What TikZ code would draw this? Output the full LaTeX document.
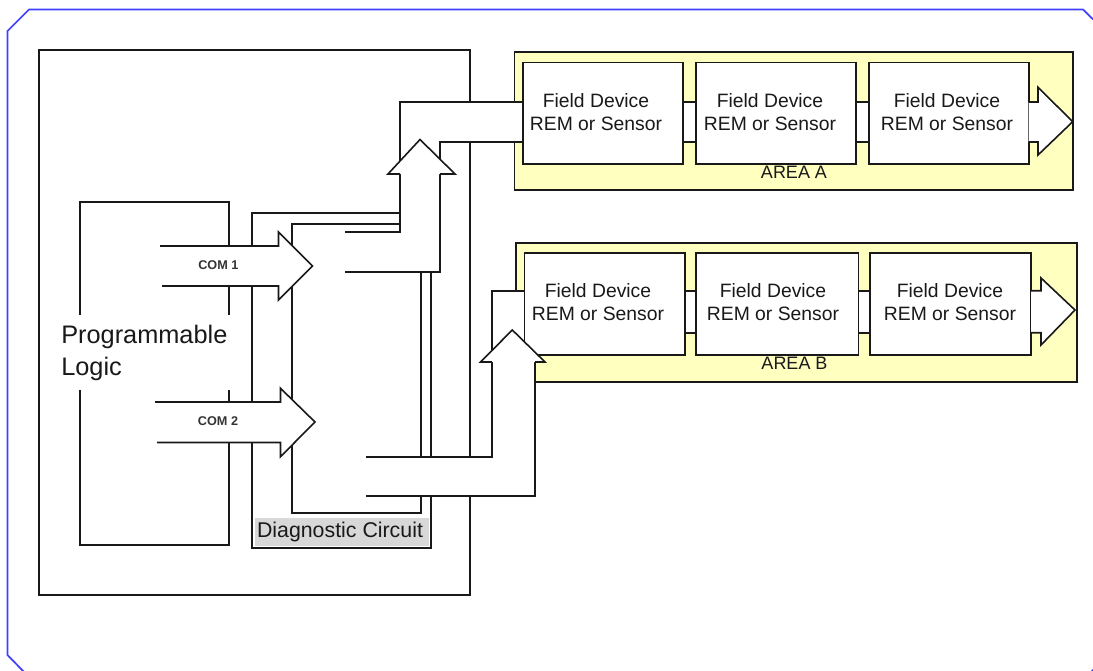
\documentclass[tikz,border=0pt]{standalone}
\usepackage{fontspec}
\setmainfont{Liberation Sans}
\definecolor{areay}{RGB}{255,255,192}
\definecolor{bord}{RGB}{64,64,255}
\definecolor{diagg}{RGB}{216,216,216}
\definecolor{ink}{RGB}{25,25,25}
\begin{document}
\begin{tikzpicture}[x=0.75pt,y=-0.75pt,
  ln/.style={draw=ink,line width=1.2pt},
  area/.style={fill=areay,draw=ink,line width=1.2pt},
  dev/.style={fill=white,draw=ink,line width=1.2pt},
  fd/.style={font=\fontsize{14.5}{17.25}\selectfont,align=center,inner sep=0pt,text=ink},
  pl/.style={font=\fontsize{19}{22}\selectfont,inner sep=0pt,text=ink},
  com/.style={font=\fontsize{9.5}{10}\selectfont\bfseries,inner sep=0pt,text=black!80},
  arealbl/.style={font=\fontsize{13.5}{15}\selectfont,inner sep=0pt,text=ink},
  diaglbl/.style={font=\fontsize{16}{18}\selectfont,inner sep=0pt,text=ink}]
% canvas and outer border
\useasboundingbox (0,0) rectangle (1093,671);
\fill[white] (0,0) rectangle (1093,671);
\begin{scope}
  \clip (0,0) rectangle (1093,671);
  \draw[bord,line width=1.3pt] (29,9.5) -- (1083,9.5) -- (1104,30) -- (1104,659) -- (1089,674) -- (26,674) -- (7.5,655) -- (7.5,31) -- cycle;
\end{scope}
% main box
\draw[ln] (39,50) rectangle (470,595);
% programmable logic box
\draw[ln] (80,202) rectangle (229,545);
% diagnostic circuit outlines
\draw[ln] (400,213) -- (252,213) -- (252,548) -- (431,548) -- (431,272);
\draw[ln] (400,224) -- (292,224) -- (292,513) -- (421,513) -- (421,272);
\fill[diagg] (255,517.5) rectangle (429,546);
\node[diaglbl,anchor=base] (diag) at (340,537) {Diagnostic Circuit};
% areas
\draw[area] (514.4,51.7) rectangle (1073,190);
\draw[area] (516,242.7) rectangle (1077,381.7);
% bus interiors
\fill[white] (345,232) -- (400,232) -- (400,102) -- (523,102) -- (523,142) -- (440,142) -- (440,272) -- (345,272) -- cycle;
\fill[white] (366,457) -- (492,457) -- (492,290.7) -- (525,290.7) -- (525,362) -- (535,362) -- (535,496) -- (366,496) -- cycle;
% links between devices
\fill[white] (682.7,102) rectangle (696,142);
\fill[white] (856,102) rectangle (868.8,142);
\fill[white] (685,290.7) rectangle (696,332.7);
\fill[white] (858.5,290.7) rectangle (870,332.7);
\draw[ln] (682.7,102) -- (696,102) (682.7,142) -- (696,142);
\draw[ln] (856,102) -- (868.8,102) (856,142) -- (868.8,142);
\draw[ln] (685,290.7) -- (696,290.7) (685,332.7) -- (696,332.7);
\draw[ln] (858.5,290.7) -- (870,290.7) (858.5,332.7) -- (870,332.7);
% devices
\draw[dev] (522.7,62.3) rectangle (682.7,164);
\draw[dev] (696,62.3) rectangle (856,164);
\draw[dev] (868.8,62.3) rectangle (1028.7,164);
\draw[dev] (524.6,252.7) rectangle (685,355);
\draw[dev] (696,252.7) rectangle (858.5,355);
\draw[dev] (870,252.7) rectangle (1031,355);
\node[fd] (a1) at (596,112) {Field Device\\REM or Sensor};
\node[fd] (a2) at (770,112) {Field Device\\REM or Sensor};
\node[fd] (a3) at (947,112) {Field Device\\REM or Sensor};
\node[fd] (b1) at (598,302) {Field Device\\REM or Sensor};
\node[fd] (b2) at (773,302) {Field Device\\REM or Sensor};
\node[fd] (b3) at (950,302) {Field Device\\REM or Sensor};
\node[arealbl,anchor=base] (areaA) at (794,178.3) {AREA A};
\node[arealbl,anchor=base] (areaB) at (794.5,369.3) {AREA B};
% output arrows
\draw[ln,fill=white] (1028.7,102) -- (1038,102) -- (1038,87.3) -- (1072.7,121.7) -- (1038,155) -- (1038,142) -- (1028.7,142);
\draw[ln,fill=white] (1031,290.7) -- (1041,290.7) -- (1041,278) -- (1075,310) -- (1041,345) -- (1041,332.7) -- (1031,332.7);
% bus lines
\draw[ln] (345,232) -- (400,232) -- (400,102) -- (522.7,102);
\draw[ln] (522.7,142) -- (440,142) -- (440,272) -- (345,272);
\draw[ln] (366,457) -- (492,457) -- (492,290.7) -- (524.6,290.7);
\draw[ln] (366,496) -- (535,496) -- (535,362);
% bus arrowheads
\draw[ln,fill=white] (400,174) -- (388,174) -- (420,139.5) -- (455,174) -- (440,174);
\draw[ln,fill=white] (492,362) -- (480.5,362) -- (512.3,330) -- (545,362) -- (535,362);
% COM arrows
\draw[ln,fill=white] (160,246) -- (278.5,246) -- (278.5,232) -- (312.5,266) -- (278.5,300) -- (278.5,286) -- (162,286);
\draw[ln,fill=white] (155,402) -- (280.5,402) -- (280.5,388.3) -- (315,422) -- (280.5,456.7) -- (280.5,442.5) -- (157,442.5);
\node[com,anchor=base] (com1) at (218.4,269.3) {COM 1};
\node[com,anchor=base] (com2) at (218,425.7) {COM 2};
% programmable logic label
\fill[white] (57,315) rectangle (234,390);
\node[pl,anchor=base west] (pl1) at (61,343) {Programmable};
\node[pl,anchor=base west] (pl2) at (61,375) {Logic};
\end{tikzpicture}
\end{document}
